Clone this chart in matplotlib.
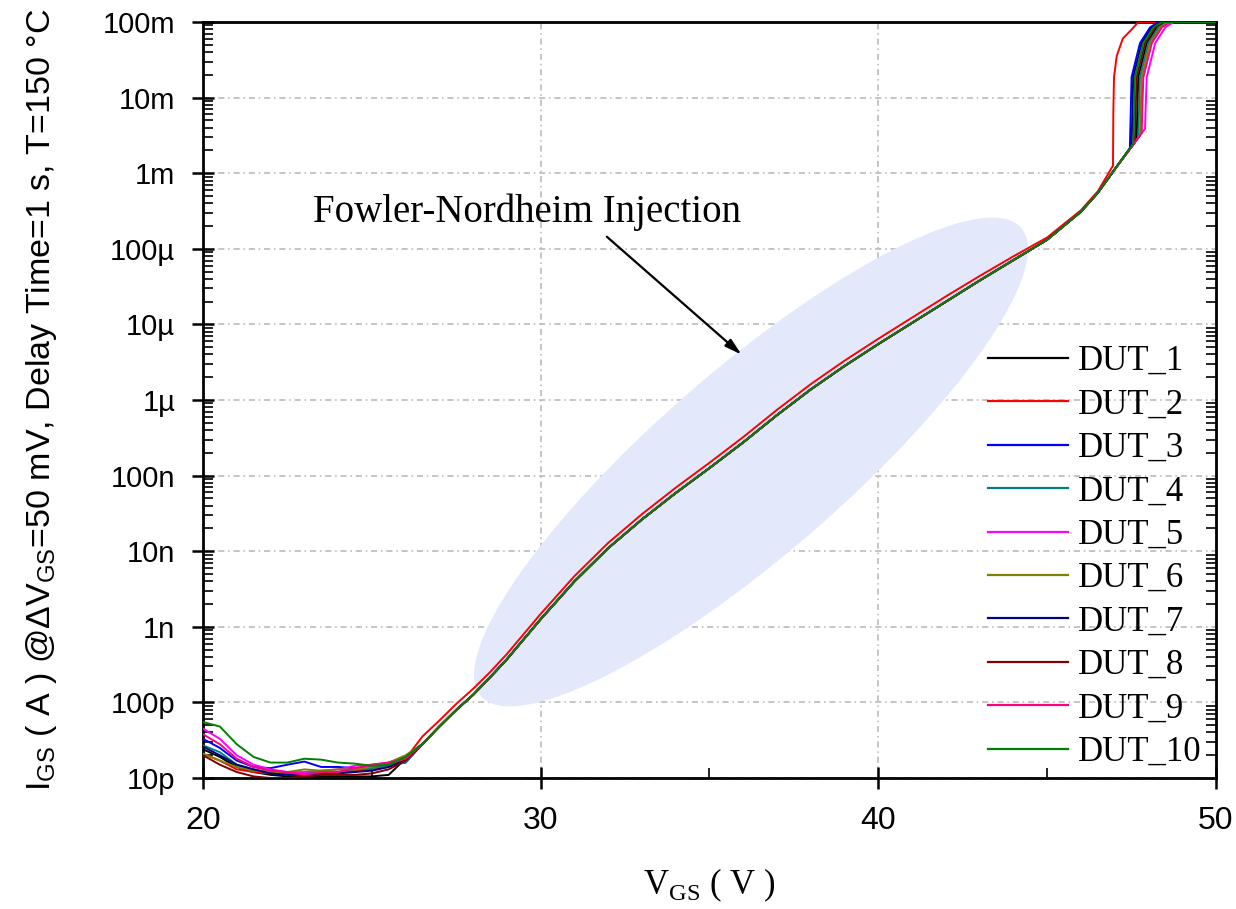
import numpy as np
import matplotlib
matplotlib.use("Agg")
import matplotlib.pyplot as plt
from matplotlib.patches import Ellipse
from matplotlib.ticker import FixedLocator, LogLocator, NullFormatter

plt.rcParams["mathtext.fontset"] = "custom"
plt.rcParams["mathtext.rm"] = "Liberation Serif"
plt.rcParams["mathtext.sf"] = "Liberation Sans"

# ---- data ----
labels = ["DUT_1", "DUT_2", "DUT_3", "DUT_4", "DUT_5",
          "DUT_6", "DUT_7", "DUT_8", "DUT_9", "DUT_10"]
colors = ["#000000", "#ff0000", "#0000ff", "#008080", "#ff00ff",
          "#808000", "#000080", "#800000", "#ff0080", "#008000"]

# leakage floor, pA
vgs_low = [20, 20.5, 21, 21.5, 22, 22.5, 23, 23.5, 24, 24.5, 25, 25.5, 26]
i_low_pA = [
    [24, 19, 14, 12, 11, 10.5, 10.5, 10.5, 10.5, 10.5, 10.5, 11, 18],
    [21, 17, 13, 12, 11.5, 12, 11, 12, 12, 12.5, 13, 14, 18],
    [33, 25, 17, 14, 13.5, 15, 16.5, 14, 14, 13.5, 14, 15, 16],
    [27, 22, 15, 13, 12, 11.5, 11.5, 12, 12, 13, 13.5, 14.5, 16],
    [45, 33, 20, 15, 13, 12, 12, 12.5, 13, 14.5, 15, 16, 19],
    [21, 17, 14, 12.5, 12, 12, 13, 12.5, 13, 13, 14, 16, 20],
    [26, 20, 15, 13, 11.5, 11, 11, 11.5, 11.5, 12, 12.5, 14, 17],
    [20, 15, 12, 10.5, 10, 10, 10.5, 11, 11, 11, 11.5, 13, 17],
    [38, 28, 18, 14, 12.5, 12, 11, 12, 12, 13.5, 15, 16, 18],
    [55, 48, 28, 19, 16, 16, 18, 17.5, 16, 15.5, 14.5, 15, 19],
]

# Fowler-Nordheim region, log10(A)
vgs_fn = [26.5, 27, 27.5, 28, 28.5, 29, 30, 31, 32, 33, 34, 35, 36, 37,
          38, 39, 40, 41, 42, 43, 44, 45, 46, 46.5, 47]
logi_fn = [-10.55, -10.32, -10.1, -9.9, -9.67, -9.43, -8.9, -8.4, -7.96,
           -7.58, -7.23, -6.9, -6.56, -6.2, -5.86, -5.55, -5.26, -4.98,
           -4.7, -4.42, -4.15, -3.88, -3.51, -3.26, -2.95]
vgs_fn_dut2 = [26.5, 27, 27.5, 28, 28.5, 29, 30, 31, 32, 33, 34, 35, 36, 37,
               38, 39, 40, 41, 42, 43, 44, 45, 46, 46.5]
logi_fn_dut2 = [-10.45, -10.24, -10.02, -9.82, -9.6, -9.36, -8.83, -8.33,
                -7.89, -7.51, -7.16, -6.83, -6.49, -6.13, -5.79, -5.48, -5.19,
                -4.91, -4.63, -4.36, -4.1, -3.85, -3.49, -3.24]

# breakdown + compliance (100 mA), log10(A)
vgs_tail = [
    [47.65, 47.67, 47.7, 47.95, 48.25, 48.5, 50],
    [46.95, 46.96, 46.98, 47.06, 47.24, 47.5, 47.7, 50],
    [47.45, 47.47, 47.5, 47.75, 48.05, 48.3, 50],
    [47.7, 47.72, 47.75, 48.0, 48.3, 48.55, 50],
    [47.9, 47.92, 47.95, 48.2, 48.5, 48.75, 50],
    [47.75, 47.77, 47.8, 48.05, 48.35, 48.6, 50],
    [47.5, 47.52, 47.55, 47.8, 48.1, 48.35, 50],
    [47.6, 47.62, 47.65, 47.9, 48.2, 48.45, 50],
    [47.8, 47.82, 47.85, 48.1, 48.4, 48.65, 50],
    [47.55, 47.57, 47.6, 47.85, 48.15, 48.4, 50],
]
logi_tail = [
    [-2.56, -2.2, -1.73, -1.28, -1.07, -1.0, -1.0],
    [-2.9, -2.2, -1.73, -1.45, -1.22, -1.1, -1.0, -1.0],
    [-2.67, -2.3, -1.73, -1.28, -1.07, -1.0, -1.0],
    [-2.53, -2.2, -1.73, -1.28, -1.07, -1.0, -1.0],
    [-2.41, -2.1, -1.73, -1.28, -1.07, -1.0, -1.0],
    [-2.5, -2.2, -1.73, -1.28, -1.07, -1.0, -1.0],
    [-2.64, -2.3, -1.73, -1.28, -1.07, -1.0, -1.0],
    [-2.59, -2.2, -1.73, -1.28, -1.07, -1.0, -1.0],
    [-2.47, -2.1, -1.73, -1.28, -1.07, -1.0, -1.0],
    [-2.61, -2.3, -1.73, -1.28, -1.07, -1.0, -1.0],
]

ytick_vals = [1e-11, 1e-10, 1e-9, 1e-8, 1e-7, 1e-6, 1e-5, 1e-4, 1e-3, 1e-2, 1e-1]
ytick_labels = ["10p", "100p", "1n", "10n", "100n", "1µ", "10µ", "100µ",
                "1m", "10m", "100m"]
xtick_vals = [20, 30, 40, 50]

annot_text = "Fowler-Nordheim Injection"
annot_text_xy = (29.6, 10 ** -3.52)
arrow_start = (31.96, 10 ** -3.84)
arrow_end = (35.95, 10 ** -5.4)

# ---- figure ----
fig = plt.figure(figsize=(12.36, 9.09), dpi=100)
ax = fig.add_axes([0.1642, 0.1441, 0.8196, 0.8317])

# highlight ellipse, placed in figure inches
ell = Ellipse((7.51, 4.47), 7.15, 1.86, angle=40.9, transform=fig.dpi_scale_trans,
              facecolor="#e3e9fb", edgecolor="none", zorder=1)
ax.add_patch(ell)

for k in range(len(labels)):
    if k == 1:
        v_mid, l_mid = vgs_fn_dut2, logi_fn_dut2
    else:
        v_mid, l_mid = vgs_fn, logi_fn
    v = np.concatenate([vgs_low, v_mid, vgs_tail[k]])
    cur = np.concatenate([np.array(i_low_pA[k]) * 1e-12,
                          10.0 ** np.array(l_mid),
                          10.0 ** np.array(logi_tail[k])])
    ax.plot(v, cur, color=colors[k], lw=1.4, label=labels[k], zorder=3)

ax.set_yscale("log")
ax.set_xlim(20, 50)
ax.set_ylim(1e-11, 1e-1)

ax.yaxis.set_major_locator(FixedLocator(ytick_vals))
ax.set_yticklabels(ytick_labels, fontfamily="Liberation Sans", fontsize=21)
ax.yaxis.set_minor_locator(LogLocator(base=10, subs=np.arange(2, 10), numticks=20))
ax.yaxis.set_minor_formatter(NullFormatter())
ax.set_xticks(xtick_vals)
ax.set_xticklabels([str(t) for t in xtick_vals], fontfamily="Liberation Sans", fontsize=23)
ax.set_xticks([25, 35, 45], minor=True)

ax.tick_params(which="major", direction="inout", length=16, width=1.8)
ax.tick_params(axis="y", which="major", pad=12)
ax.tick_params(axis="x", which="major", pad=12)
ax.tick_params(which="minor", direction="in", length=7, width=1.2)
ax.tick_params(which="both", right=True)
ax.tick_params(which="major", right=False)
for sp in ax.spines.values():
    sp.set_linewidth(2)

ax.grid(True, which="major", color="#b5b5b5", lw=1.1, dashes=(4, 2.5, 1, 2.5))
ax.set_axisbelow(True)

ax.set_ylabel(r"I$_{\mathsf{GS}}$ ( A ) @ΔV$_{\mathsf{GS}}$=50 mV, Delay Time=1 s, T=150 °C",
              fontfamily="Liberation Sans", fontsize=24.5)
ax.yaxis.set_label_coords(-0.142, 0.5)
ax.set_xlabel(r"V$_{\mathrm{GS}}$ ( V )", fontfamily="Liberation Serif", fontsize=25,
              labelpad=22)

ax.text(annot_text_xy[0], annot_text_xy[1], annot_text,
        fontfamily="Liberation Serif", fontsize=28, ha="center", va="center", zorder=5)
ax.annotate("", xy=arrow_end, xytext=arrow_start,
            arrowprops=dict(arrowstyle="-|>,head_length=1.0,head_width=0.28",
                            color="black", lw=1.6, shrinkA=0, shrinkB=0),
            zorder=5)

leg = ax.legend(loc="lower right", bbox_to_anchor=(1.01, -0.02), frameon=False,
                prop={"family": "Liberation Serif", "size": 25},
                handlelength=2.3, handletextpad=0.3, labelspacing=0.3,
                borderaxespad=0.3)
for line in leg.get_lines():
    line.set_linewidth(1.6)

fig.savefig("out.png", dpi=100)
